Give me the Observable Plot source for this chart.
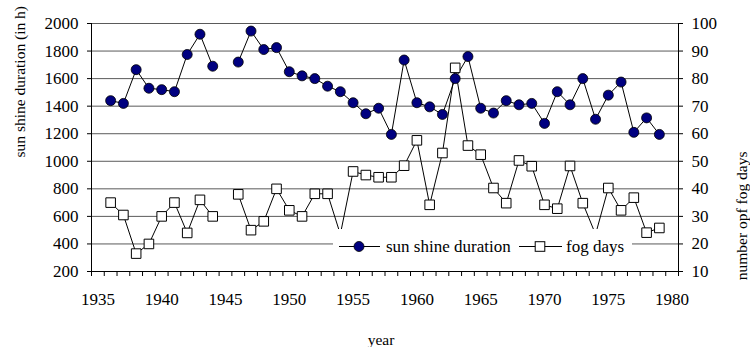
<!DOCTYPE html>
<html>
<head>
<meta charset="utf-8">
<script src="https://cdn.jsdelivr.net/npm/d3@7"></script>
<script src="https://cdn.jsdelivr.net/npm/@observablehq/plot@0.6"></script>
<style>
  body { margin: 0; background: #fff; }
  #wrap { position: relative; width: 750px; height: 347px; font-family: "Liberation Serif", "Times New Roman", serif; }
  #wrap svg text { font-family: "Liberation Serif", "Times New Roman", serif !important; font-variant: normal !important; }
  #legend { position: absolute; left: 333px; top: 229px; width: 299px; height: 28px; background: #fff; }
</style>
</head>
<body>
<div id="wrap"></div>
<script>
// ---- data ----
const years = [1936,1937,1938,1939,1940,1941,1942,1943,1944,1945,1946,1947,1948,1949,1950,
  1951,1952,1953,1954,1955,1956,1957,1958,1959,1960,1961,1962,1963,1964,1965,1966,1967,1968,
  1969,1970,1971,1972,1973,1974,1975,1976,1977,1978,1979];
const sunshine = [1440,1420,1665,1530,1520,1505,1775,1922,1690,NaN,1720,1945,1811,1825,1650,
  1620,1600,1545,1505,1425,1345,1385,1195,1735,1425,1395,1340,1600,1760,1385,1350,1440,1410,
  1420,1275,1505,1410,1600,1305,1480,1575,1210,1315,1195];
const fogDays = [35,30.5,16.5,20,30,35,24,36,30,NaN,38,25,28.2,40,32.2,
  30,38.2,38.2,23.5,46.3,45,44.2,44.2,48.4,57.6,34.2,53,83.9,55.7,52.4,40.3,34.8,50.3,
  48.2,34.2,32.8,48.3,34.8,23.5,40.3,32.2,36.8,24.1,25.8];
const xTickLabels = [1935,1940,1945,1950,1955,1960,1965,1970,1975,1980];
const sunTicks = [200,400,600,800,1000,1200,1400,1600,1800,2000];
const fogTicks = [10,20,30,40,50,60,70,80,90,100];
const seriesNames = ["sun shine duration", "fog days"];
const xTitle = "year";
const yTitleLeft = "sun shine duration (in h)";
const yTitleRight = "number opf fog days";

// ---- build ----
const serif = "'Liberation Serif', 'Times New Roman', serif";
const fogScale = sunTicks[sunTicks.length - 1] / fogTicks[fogTicks.length - 1]; // 20
const rows = years.map((y, i) => ({year: y, sun: sunshine[i], fog: fogDays[i] * fogScale}));
const xFirst = xTickLabels[0] - 0.5, xLast = xTickLabels[xTickLabels.length - 1] + 0.5;
const catEdges = d3.range(xFirst, xLast + 0.01, 1);

const chart = Plot.plot({
  width: 750,
  height: 347,
  marginLeft: 91,
  marginRight: 72,
  marginTop: 23,
  marginBottom: 76,
  style: {fontFamily: serif, fontSize: "17px", color: "#000", background: "#fff"},
  x: {domain: [xFirst, xLast], axis: null},
  y: {domain: [sunTicks[0], sunTicks[sunTicks.length - 1]], axis: null},
  marks: [
    Plot.gridY(sunTicks, {stroke: "#5a5a5a", strokeOpacity: 1, strokeWidth: 1}),
    Plot.ruleY([sunTicks[0]], {stroke: "#000"}),
    Plot.ruleX([xFirst, xLast], {stroke: "#000"}),
    Plot.axisY(sunTicks, {anchor: "left", tickSize: 4, tickPadding: 9, fontSize: 17, fontFamily: serif, label: null, tickFormat: d => String(d)}),
    Plot.axisY(fogTicks.map(d => d * fogScale), {anchor: "right", tickSize: 4, tickPadding: 9, fontSize: 17, fontFamily: serif, label: null, tickFormat: d => String(d / fogScale)}),
    Plot.axisX(catEdges, {anchor: "bottom", tickSize: 5, tickFormat: () => "", label: null}),
    Plot.axisX(xTickLabels, {anchor: "bottom", tickSize: 0, tickPadding: 21, fontSize: 17, fontFamily: serif, label: null, tickFormat: d => String(d)}),
    Plot.line(rows, {x: "year", y: "sun", stroke: "#000", strokeWidth: 1}),
    Plot.line(rows, {x: "year", y: "fog", stroke: "#000", strokeWidth: 1}),
    Plot.dot(rows.filter(d => !isNaN(d.sun)), {x: "year", y: "sun", r: 5, fill: "#000080", stroke: "#000", strokeWidth: 0.8}),
    Plot.dot(rows.filter(d => !isNaN(d.fog)), {x: "year", y: "fog", symbol: "square", r: 5.4, fill: "#fff", stroke: "#000", strokeWidth: 1}),
    Plot.text([xTitle], {frameAnchor: "bottom", dx: -4, dy: 73, lineAnchor: "bottom", fontSize: 15.5, fontFamily: serif}),
    Plot.text([yTitleLeft], {frameAnchor: "left", dx: -71, dy: 10, rotate: -90, fontSize: 15.5, fontFamily: serif}),
    Plot.text([yTitleRight], {frameAnchor: "right", dx: 64, dy: 4, rotate: -90, fontSize: 15.5, fontFamily: serif})
  ]
});

const wrap = document.getElementById("wrap");
wrap.appendChild(chart);

// legend overlay (white box inside the plot area, as in the original)
const legend = document.createElement("div");
legend.id = "legend";
const ns = "http://www.w3.org/2000/svg";
const lsvg = document.createElementNS(ns, "svg");
lsvg.setAttribute("width", 299);
lsvg.setAttribute("height", 28);
lsvg.style.fontFamily = serif;
lsvg.style.fontSize = "17px";
const cy = 17.5;
function el(tag, attrs, text) {
  const e = document.createElementNS(ns, tag);
  for (const k in attrs) e.setAttribute(k, attrs[k]);
  if (text) e.textContent = text;
  lsvg.appendChild(e);
  return e;
}
// series 1
el("line", {x1: 6, x2: 47, y1: cy, y2: cy, stroke: "#000"});
el("circle", {cx: 26, cy: cy, r: 5, fill: "#000080", stroke: "#000", "stroke-width": 0.8});
el("text", {x: 53, y: cy + 5.5, fill: "#000"}, seriesNames[0]);
// series 2
el("line", {x1: 186, x2: 229, y1: cy, y2: cy, stroke: "#000"});
el("rect", {x: 202.2, y: cy - 4.8, width: 9.6, height: 9.6, fill: "#fff", stroke: "#000"});
el("text", {x: 233, y: cy + 5.5, fill: "#000"}, seriesNames[1]);
legend.appendChild(lsvg);
wrap.appendChild(legend);
</script>
</body>
</html>
